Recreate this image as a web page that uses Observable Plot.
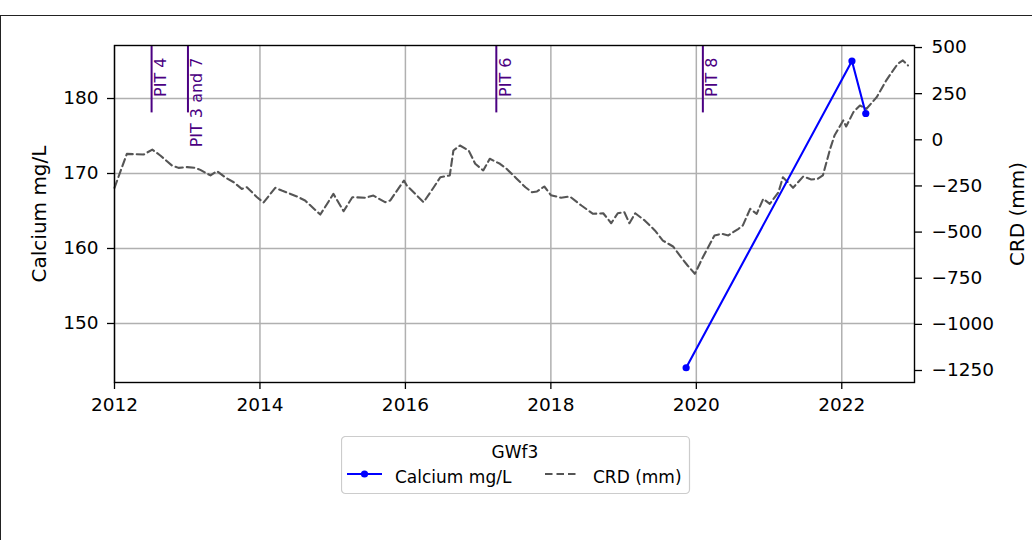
<!DOCTYPE html>
<html>
<head>
<meta charset="utf-8">
<script src="https://cdn.jsdelivr.net/npm/d3@7"></script>
<script src="https://cdn.jsdelivr.net/npm/@observablehq/plot@0.6"></script>
<style>
  body { margin: 0; background: #fff; font-family: "DejaVu Sans", sans-serif; }
  #page { position: relative; width: 1032px; height: 540px; overflow: hidden; }
  #border { position: absolute; left: 0; top: 15px; width: 1040px; height: 540px; border: 1px solid #222; box-sizing: border-box; }
  #chart { position: absolute; left: 0; top: 0; }
  #legend { position: absolute; left: 341px; top: 436px; }
</style>
</head>
<body>
<div id="page">
  <div id="border"></div>
  <div id="chart"></div>
  <div id="legend"></div>
</div>
<script>
// ---- data ----
const crdYear = [2012.00, 2012.17, 2012.40, 2012.52, 2012.63, 2012.79, 2012.88, 2013.00, 2013.11, 2013.18,
  2013.32, 2013.41, 2013.52, 2013.64, 2013.75, 2013.82, 2013.96, 2014.05, 2014.21, 2014.30,
  2014.51, 2014.62, 2014.83, 2015.01, 2015.15, 2015.27, 2015.45, 2015.56, 2015.72, 2015.79,
  2015.98, 2016.02, 2016.25, 2016.39, 2016.48, 2016.61, 2016.66, 2016.75, 2016.87, 2016.96,
  2017.07, 2017.16, 2017.30, 2017.39, 2017.53, 2017.65, 2017.74, 2017.81, 2017.91, 2018.00,
  2018.14, 2018.26, 2018.42, 2018.58, 2018.72, 2018.83, 2018.92, 2019.01, 2019.08, 2019.16,
  2019.29, 2019.43, 2019.54, 2019.68, 2019.79, 2019.88, 2019.98, 2020.09, 2020.25, 2020.35,
  2020.44, 2020.58, 2020.64, 2020.74, 2020.83, 2020.92, 2021.01, 2021.13, 2021.19, 2021.26,
  2021.33, 2021.47, 2021.58, 2021.67, 2021.74, 2021.84, 2021.90, 2022.02, 2022.06, 2022.16,
  2022.25, 2022.34, 2022.48, 2022.61, 2022.77, 2022.84, 2022.91];
const crdValue = [-260, -76, -80, -53, -85, -139, -152, -148, -152, -163,
  -193, -170, -203, -230, -266, -257, -311, -340, -260, -275,
  -307, -329, -405, -293, -387, -311, -314, -302, -338, -329,
  -221, -248, -338, -257, -203, -193, -58, -31, -58, -130,
  -166, -103, -130, -157, -211, -257, -284, -280, -253, -300,
  -314, -307, -356, -401, -398, -452, -398, -392, -452, -398,
  -437, -491, -546, -578, -636, -681, -726, -636, -518, -509,
  -518, -482, -464, -374, -401, -320, -347, -284, -203, -230,
  -260, -199, -215, -211, -193, -49, 23, 105, 72, 150,
  186, 168, 231, 321, 412, 430, 403];
const caYear = [2019.86, 2022.14, 2022.33];
const caValue = [144.1, 185.0, 178.0];
const pitYear = [2012.51, 2013.01, 2017.25, 2020.09];
const pitLabel = ["PIT 4", "PIT 3 and 7", "PIT 6", "PIT 8"];
const xTicks = [2012, 2014, 2016, 2018, 2020, 2022];
const leftTicks = [150, 160, 170, 180];
const rightTicks = [500, 250, 0, -250, -500, -750, -1000, -1250];
const xDomain = [2012, 2023];
const leftDomain = [142.13, 187.07];
const rightDomain = [-1315, 511];
const seriesNames = ["Calcium mg/L", "CRD (mm)"];
const legendTitle = "GWf3";

// ---- build ----
const crdData = crdYear.map((x, i) => ({x, v: crdValue[i]}));
const caData = caYear.map((x, i) => ({x, v: caValue[i]}));
const pits = pitYear.map((x, i) => ({x, label: pitLabel[i]}));
const toLeft = d3.scaleLinear(rightDomain, leftDomain);
const fmtR = d3.format("d");
const pitFrom = leftDomain[0] + 0.8 * (leftDomain[1] - leftDomain[0]);

const crdColor = "#555555";
const caColor = "#0000ff";
const pitColor = "#4b0082";
const dash = "7.5,4";

const chart = Plot.plot({
  width: 1032,
  height: 430,
  marginTop: 45,
  marginLeft: 114,
  marginRight: 118,
  marginBottom: 48,
  style: {fontFamily: "DejaVu Sans", fontSize: "18.5px", color: "#000", background: "transparent", overflow: "visible"},
  x: {domain: xDomain, type: "linear"},
  y: {domain: leftDomain},
  marks: [
    Plot.gridX(xTicks, {stroke: "#b0b0b0", strokeOpacity: 1, strokeWidth: 1.5}),
    Plot.gridY(leftTicks, {stroke: "#b0b0b0", strokeOpacity: 1, strokeWidth: 1.5}),
    Plot.ruleX(pits, {x: "x", y1: pitFrom, y2: leftDomain[1], stroke: pitColor, strokeWidth: 2}),
    Plot.text(pits, {x: "x", y: leftDomain[1], text: "label", rotate: -90, textAnchor: "end", lineAnchor: "top",
      dx: 3, dy: 12, fill: pitColor, fontSize: 16}),
    Plot.line(crdData, {x: "x", y: d => toLeft(d.v), stroke: crdColor, strokeWidth: 2.1, strokeDasharray: dash, curve: "linear"}),
    Plot.line(caData, {x: "x", y: "v", stroke: caColor, strokeWidth: 2.1}),
    Plot.dot(caData, {x: "x", y: "v", fill: caColor, r: 3.6, stroke: "none"}),
    Plot.frame({stroke: "#000", strokeWidth: 1.4}),
    Plot.axisX(xTicks, {anchor: "bottom", tickSize: 7, tickPadding: 8, tickFormat: "d", label: null, strokeWidth: 1.3}),
    Plot.axisY(leftTicks, {anchor: "left", tickSize: 7, tickPadding: 9, label: null, strokeWidth: 1.3}),
    Plot.axisY(rightTicks.map(v => toLeft(v)), {anchor: "right", tickSize: 7, tickPadding: 10, label: null, strokeWidth: 1.3,
      tickFormat: d => fmtR(Math.round(toLeft.invert(d)))}),
    Plot.text([seriesNames[0]], {frameAnchor: "left", dx: -75, rotate: -90, textAnchor: "middle", lineAnchor: "middle",
      text: d => d, fontSize: 20, fill: "#000"}),
    Plot.text([seriesNames[1]], {frameAnchor: "right", dx: 103, rotate: -90, textAnchor: "middle", lineAnchor: "middle",
      text: d => d, fontSize: 20, fill: "#000"})
  ]
});
document.getElementById("chart").appendChild(chart);

// ---- legend ----
const lg = d3.select("#legend").append("svg").attr("width", 350).attr("height", 60)
  .style("font-family", "DejaVu Sans").style("font-size", "17px");
lg.append("rect").attr("x", 0.5).attr("y", 0.5).attr("width", 348).attr("height", 57).attr("rx", 4)
  .attr("fill", "#fff").attr("stroke", "#cccccc").attr("stroke-width", 1.2);
lg.append("text").attr("x", 174).attr("y", 22).attr("text-anchor", "middle").attr("fill", "#000").text(legendTitle);
lg.append("line").attr("x1", 6).attr("x2", 41).attr("y1", 38).attr("y2", 38).attr("stroke", caColor).attr("stroke-width", 2.1);
lg.append("circle").attr("cx", 23.5).attr("cy", 38).attr("r", 3.6).attr("fill", caColor);
lg.append("text").attr("x", 54).attr("y", 47).attr("fill", "#000").text(seriesNames[0]);
lg.append("line").attr("x1", 204).attr("x2", 238).attr("y1", 38).attr("y2", 38).attr("stroke", crdColor)
  .attr("stroke-width", 2.1).attr("stroke-dasharray", dash);
lg.append("text").attr("x", 252).attr("y", 47).attr("fill", "#000").text(seriesNames[1]);
</script>
</body>
</html>
